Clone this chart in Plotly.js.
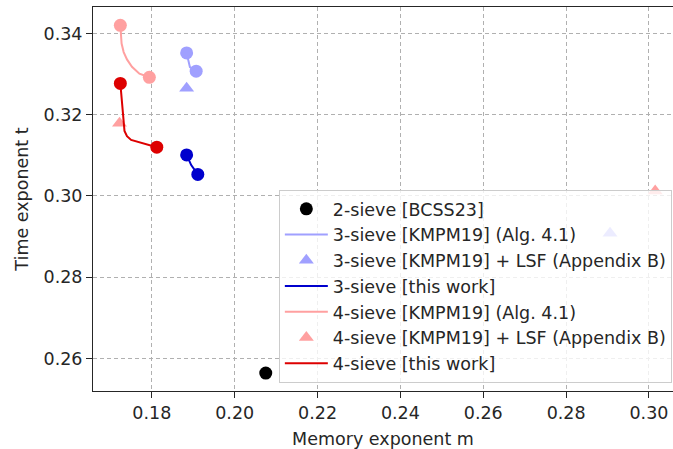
<!DOCTYPE html>
<html>
<head>
<meta charset="utf-8">
<script src="https://cdn.plot.ly/plotly-3.0.1.min.js"></script>
<style>html,body{margin:0;padding:0;background:#fff;}#chart{width:673px;height:449px;}</style>
</head>
<body>
<div id="chart"></div>
<script>
// ---- data (memory exponent m, time exponent t) ----
var twoSieveM = [0.2075];
var twoSieveT = [0.2564];

var kmpm3LineM = [0.1884, 0.1889, 0.1892, 0.1907];
var kmpm3LineT = [0.3352, 0.3329, 0.3317, 0.3307];
var kmpm3PtsM = [0.1884, 0.1907];
var kmpm3PtsT = [0.3352, 0.3307];

var lsf3M = [0.1884, 0.2906];
var lsf3T = [0.3265, 0.2908];

var work3LineM = [0.1884, 0.1890, 0.1895, 0.1911];
var work3LineT = [0.3101, 0.3088, 0.3076, 0.3053];
var work3PtsM = [0.1884, 0.1911];
var work3PtsT = [0.3101, 0.3053];

var kmpm4LineM = [0.1724, 0.1727, 0.1732, 0.1740, 0.1752, 0.1770, 0.1794];
var kmpm4LineT = [0.3420, 0.3375, 0.3354, 0.3336, 0.3318, 0.3301, 0.3292];
var kmpm4PtsM = [0.1724, 0.1794];
var kmpm4PtsT = [0.3420, 0.3292];

var lsf4M = [0.1722, 0.3015];
var lsf4T = [0.3179, 0.3012];

var work4LineM = [0.1724, 0.1726, 0.1734, 0.1740, 0.1750, 0.1812];
var work4LineT = [0.3277, 0.3250, 0.3160, 0.3147, 0.3138, 0.3120];
var work4PtsM = [0.1724, 0.1812];
var work4PtsT = [0.3277, 0.3120];

var legendNames = [
  "2-sieve [BCSS23]",
  "3-sieve [KMPM19] (Alg. 4.1)",
  "3-sieve [KMPM19] + LSF (Appendix B)",
  "3-sieve [this work]",
  "4-sieve [KMPM19] (Alg. 4.1)",
  "4-sieve [KMPM19] + LSF (Appendix B)",
  "4-sieve [this work]"
];
var xTicks = [0.18, 0.20, 0.22, 0.24, 0.26, 0.28, 0.30];
var yTicks = [0.26, 0.28, 0.30, 0.32, 0.34];

// ---- styles ----
var cLightBlue = "#a0a0ff", cBlue = "#0000cd", cLightRed = "#ffa0a0", cRed = "#dd0000";
var msize = 13;

var traces = [
  {x: twoSieveM, y: twoSieveT, mode: "markers", name: legendNames[0], legendgroup: "g0",
   marker: {color: "#000000", size: msize}},
  {x: kmpm3LineM, y: kmpm3LineT, mode: "lines", name: legendNames[1], legendgroup: "g1",
   line: {color: cLightBlue, width: 2}},
  {x: lsf3M, y: lsf3T, mode: "markers", name: legendNames[2], legendgroup: "g2",
   marker: {color: cLightBlue, size: msize, symbol: "triangle-up"}},
  {x: work3LineM, y: work3LineT, mode: "lines", name: legendNames[3], legendgroup: "g3",
   line: {color: cBlue, width: 2}},
  {x: kmpm4LineM, y: kmpm4LineT, mode: "lines", name: legendNames[4], legendgroup: "g4",
   line: {color: cLightRed, width: 2}},
  {x: lsf4M, y: lsf4T, mode: "markers", name: legendNames[5], legendgroup: "g5",
   marker: {color: cLightRed, size: msize, symbol: "triangle-up"}},
  {x: work4LineM, y: work4LineT, mode: "lines", name: legendNames[6], legendgroup: "g6",
   line: {color: cRed, width: 2}},
  {x: kmpm3PtsM, y: kmpm3PtsT, mode: "markers", showlegend: false,
   marker: {color: cLightBlue, size: msize}},
  {x: work3PtsM, y: work3PtsT, mode: "markers", showlegend: false,
   marker: {color: cBlue, size: msize}},
  {x: kmpm4PtsM, y: kmpm4PtsT, mode: "markers", showlegend: false,
   marker: {color: cLightRed, size: msize}},
  {x: work4PtsM, y: work4PtsT, mode: "markers", showlegend: false,
   marker: {color: cRed, size: msize}}
];

var fontFam = "DejaVu Sans, sans-serif";
var fs = 17.5;
var layout = {
  width: 673, height: 449,
  margin: {l: 93, r: 0, t: 7, b: 58, pad: 0},
  paper_bgcolor: "#ffffff", plot_bgcolor: "#ffffff",
  font: {family: fontFam, size: fs, color: "#262626"},
  showlegend: true,
  legend: {
    x: 0.998, xanchor: "right", y: 0.021, yanchor: "bottom",
    bgcolor: "rgba(255,255,255,0.8)", bordercolor: "#cccccc", borderwidth: 1,
    font: {family: fontFam, size: fs, color: "#262626"},
    itemwidth: 43, tracegroupgap: 1, traceorder: "normal"
  },
  xaxis: {
    range: [0.1658, 0.3058],
    tickvals: xTicks, ticktext: xTicks.map(function(v){return v.toFixed(2);}),
    ticks: "outside", ticklen: 6, tickcolor: "#262626", tickwidth: 1,
    showline: true, linecolor: "#262626", linewidth: 1, mirror: true,
    showgrid: true, gridcolor: "#b0b0b0", griddash: "4px,3px", gridwidth: 1,
    zeroline: false,
    title: {text: "Memory exponent m", standoff: 10, font: {family: fontFam, size: fs, color: "#262626"}}
  },
  yaxis: {
    range: [0.2520, 0.3465],
    tickvals: yTicks, ticktext: yTicks.map(function(v){return v.toFixed(2);}),
    ticks: "outside", ticklen: 6, tickcolor: "#262626", tickwidth: 1,
    showline: true, linecolor: "#262626", linewidth: 1, mirror: true,
    showgrid: true, gridcolor: "#b0b0b0", griddash: "4px,3px", gridwidth: 1,
    zeroline: false,
    title: {text: "Time exponent t", standoff: 10, font: {family: fontFam, size: fs, color: "#262626"}}
  }
};

Plotly.newPlot("chart", traces, layout, {displayModeBar: false, staticPlot: true});
</script>
</body>
</html>
